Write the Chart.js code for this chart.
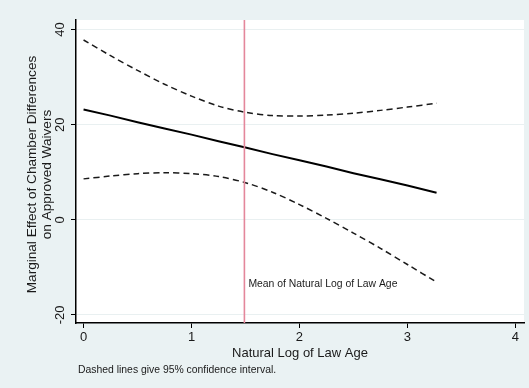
<!DOCTYPE html>
<html lang="en">
<head>
  <meta charset="UTF-8">
  <title>Marginal Effect of Chamber Differences</title>
  <script src="https://cdn.jsdelivr.net/npm/chart.js@4.4.2/dist/chart.umd.min.js"></script>
  <style>
    html, body { margin: 0; padding: 0; background: #eaf2f3; }
    .wrap { width: 529px; height: 388px; position: relative; }
  </style>
</head>
<body>
<div class="wrap">
  <canvas id="effectChart"></canvas>
</div>
<script>
  // values
  const lawAge   = [0, 0.25, 0.5, 0.75, 1.0, 1.25, 1.5, 1.75, 2.0, 2.25, 2.5, 2.75, 3.0, 3.27];
  const effect   = [23.2, 21.9, 20.5, 19.2, 17.9, 16.5, 15.2, 13.8, 12.5, 11.2, 9.8, 8.5, 7.2, 5.7];
  const upperCI  = [37.8, 34.5, 31.4, 28.5, 26.0, 23.9, 22.6, 21.9, 21.8, 22.0, 22.4, 23.0, 23.7, 24.5];
  const lowerCI  = [8.6, 9.2, 9.7, 9.9, 9.7, 9.1, 7.8, 5.8, 3.2, 0.3, -2.8, -6.0, -9.4, -13.1];
  const meanLawAge = 1.49;
  const xTicks = [0, 1, 2, 3, 4];
  const yTicks = [-20, 0, 20, 40];
  const xRange = [-0.07, 4.08];
  const yRange = [-21.7, 42];

  const FONT = "'Liberation Sans', Arial, Helvetica, sans-serif";
  const toPts = ys => lawAge.map((x, i) => ({ x: x, y: ys[i] }));

  const decorations = {
    id: 'decorations',
    beforeDraw(chart) {
      const { ctx, chartArea: a } = chart;
      ctx.save();
      ctx.fillStyle = '#ffffff';
      ctx.fillRect(a.left, a.top, a.right - a.left, a.bottom - a.top);
      ctx.restore();
    },
    afterDraw(chart) {
      const { ctx, chartArea: a, scales } = chart;
      ctx.save();
      ctx.fillStyle = '#1a1a1a';
      // y axis title, two lines rotated
      ctx.font = '13.6px ' + FONT;
      ctx.textAlign = 'center';
      ctx.textBaseline = 'middle';
      const cy = (a.top + a.bottom) / 2 + 3;
      [['Marginal Effect of Chamber Differences', 32], ['on Approved Waivers', 47]].forEach(([t, x]) => {
        ctx.save();
        ctx.translate(x, cy);
        ctx.rotate(-Math.PI / 2);
        ctx.fillText(t, 0, 0);
        ctx.restore();
      });
      // x axis title
      ctx.font = '13px ' + FONT;
      ctx.fillText('Natural Log of Law Age', (a.left + a.right) / 2, 353);
      // note
      ctx.font = '10.4px ' + FONT;
      ctx.textAlign = 'left';
      ctx.fillText('Dashed lines give 95% confidence interval.', 78, 370);
      // label next to the mean line
      ctx.font = '10.4px ' + FONT;
      ctx.fillText('Mean of Natural Log of Law Age',
        scales.x.getPixelForValue(meanLawAge) + 4, scales.y.getPixelForValue(-13.5));
      ctx.restore();
    }
  };

  new Chart(document.getElementById('effectChart'), {
    type: 'line',
    data: {
      datasets: [
        {
          label: 'Mean',
          data: [{ x: meanLawAge, y: yRange[0] }, { x: meanLawAge, y: yRange[1] }],
          borderColor: '#e4879b',
          borderWidth: 1.6,
          pointRadius: 0
        },
        {
          label: 'Upper',
          data: toPts(upperCI),
          borderColor: '#1a1a1a',
          borderWidth: 1.5,
          borderDash: [6, 4],
          pointRadius: 0,
          tension: 0.3
        },
        {
          label: 'Lower',
          data: toPts(lowerCI),
          borderColor: '#1a1a1a',
          borderWidth: 1.5,
          borderDash: [6, 4],
          pointRadius: 0,
          tension: 0.3
        },
        {
          label: 'Effect',
          data: toPts(effect),
          borderColor: '#000000',
          borderWidth: 2,
          pointRadius: 0
        }
      ]
    },
    options: {
      responsive: true,
      maintainAspectRatio: false,
      animation: false,
      layout: { padding: { top: 20, right: 5, left: 0, bottom: 0 } },
      plugins: { legend: { display: false }, tooltip: { enabled: false } },
      scales: {
        x: {
          type: 'linear',
          min: xRange[0],
          max: xRange[1],
          afterBuildTicks: s => { s.ticks = xTicks.map(v => ({ value: v })); },
          afterFit: s => { s.height = 65; },
          grid: { drawOnChartArea: false, tickColor: '#000', tickLength: 5 },
          border: { color: '#000', width: 1.5 },
          ticks: { color: '#1a1a1a', font: { family: FONT, size: 13 }, padding: 2, maxRotation: 0 }
        },
        y: {
          type: 'linear',
          min: yRange[0],
          max: yRange[1],
          afterBuildTicks: s => { s.ticks = yTicks.map(v => ({ value: v })); },
          afterFit: s => { s.width = 76; },
          grid: { color: '#e9f0f1', tickColor: '#000', tickLength: 5 },
          border: { color: '#000', width: 1.5 },
          ticks: {
            color: '#1a1a1a', font: { family: FONT, size: 13 },
            minRotation: 90, maxRotation: 90, crossAlign: 'center', padding: 1
          }
        }
      }
    },
    plugins: [decorations]
  });
</script>
</body>
</html>
